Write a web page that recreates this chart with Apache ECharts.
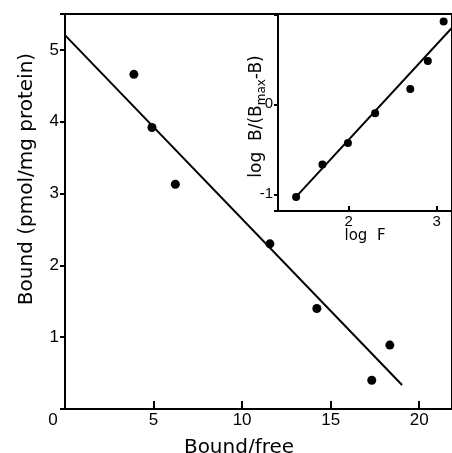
<!DOCTYPE html>
<html><head><meta charset="utf-8">
<script src="https://cdn.jsdelivr.net/npm/echarts@6/dist/echarts.min.js"></script>
<style>html,body{margin:0;padding:0;background:#fff}#c{width:452px;height:453px}</style>
</head><body><div id="c"></div>
<script>
// Main Scatchard plot
const scatchardX = [3.89, 4.91, 6.23, 11.57, 14.22, 17.32, 18.34];
const scatchardY = [4.66, 3.92, 3.13, 2.30, 1.40, 0.40, 0.89];
const scatchardFitX = [-0.25, 19.03];
const scatchardFitY = [5.27, 0.335];
// Inset Hill plot
const hillX = [1.40, 1.70, 1.99, 2.30, 2.70, 2.90, 3.08];
const hillY = [-1.03, -0.67, -0.43, -0.10, 0.17, 0.48, 0.92];
const hillFitX = [1.37, 3.25];
const hillFitY = [-1.06, 0.93];
// Ticks
const mainXTicks = [0, 5, 10, 15, 20];
const mainYTicks = [1, 2, 3, 4, 5];
const insetXTicks = [2, 3];
const insetYTicks = [-1, 0];

const pairs = (xs, ys) => xs.map((x, i) => [x, ys[i]]);
const K = '#000';
const tickFont = 'Liberation Sans';
const titleFont = 'DejaVu Sans';

const chart = echarts.init(document.getElementById('c'));
chart.setOption({
  animation: false,
  backgroundColor: '#fff',
  grid: [
    {left: 65, top: 14, right: 0, bottom: 44, outerBoundsMode: 'none', containLabel: false,
     show: true, borderColor: K, borderWidth: 2, backgroundColor: 'transparent'},
    {left: 278, top: 14, right: 0, bottom: 242, outerBoundsMode: 'none', containLabel: false,
     show: true, borderColor: K, borderWidth: 2, backgroundColor: '#fff'}
  ],
  xAxis: [
    {
      gridIndex: 0, type: 'value', min: 0, max: 21.85, interval: 5,
      axisLine: {show: true, onZero: false, lineStyle: {color: K, width: 2}},
      axisTick: {show: true, inside: true, length: 8, lineStyle: {color: K, width: 2}},
      axisLabel: {
        customValues: mainXTicks, margin: 3, color: K, fontFamily: tickFont, fontSize: 17,
        formatter: v => v === 0 ? '{z|0}' : String(v),
        rich: {z: {padding: [0, 24, 0, 0], color: K, fontFamily: tickFont, fontSize: 17}}
      },
      splitLine: {show: false},
      name: 'Bound/free', nameLocation: 'middle', nameGap: 29, nameMoveOverlap: false,
      nameTextStyle: {color: K, fontFamily: titleFont, fontSize: 20, padding: [0, 39, 0, 0]}
    },
    {
      gridIndex: 1, type: 'value', min: 1.194, max: 3.175, splitNumber: 2,
      axisLine: {show: true, onZero: false, lineStyle: {color: K, width: 2}},
      axisTick: {show: true, inside: true, length: 5, lineStyle: {color: K, width: 2}},
      axisLabel: {customValues: insetXTicks, margin: 3, color: K, fontFamily: tickFont, fontSize: 15},
      splitLine: {show: false},
      name: 'log  F', nameLocation: 'middle', nameGap: 18, nameMoveOverlap: false,
      nameTextStyle: {color: K, fontFamily: titleFont, fontSize: 15}
    }
  ],
  yAxis: [
    {
      gridIndex: 0, type: 'value', min: 0, max: 5.5, interval: 1,
      axisLine: {show: true, onZero: false, lineStyle: {color: K, width: 2}},
      axisTick: {show: true, inside: false, length: 5, lineStyle: {color: K, width: 2}},
      axisLabel: {customValues: mainYTicks, margin: 6, color: K, fontFamily: tickFont, fontSize: 17},
      splitLine: {show: false},
      name: 'Bound (pmol/mg protein)', nameLocation: 'middle', nameGap: 28, nameMoveOverlap: false,
      nameTextStyle: {color: K, fontFamily: titleFont, fontSize: 20, padding: [0, 0, 0, 65]}
    },
    {
      gridIndex: 1, type: 'value', min: -1.186, max: 1.003, splitNumber: 2,
      axisLine: {show: true, onZero: false, lineStyle: {color: K, width: 2}},
      axisTick: {show: true, inside: false, length: 4, lineStyle: {color: K, width: 2}},
      axisLabel: {customValues: insetYTicks, margin: 5, color: K, fontFamily: tickFont, fontSize: 15},
      splitLine: {show: false},
      name: 'log  B/(B{sub|max}-B)', nameLocation: 'middle', nameGap: 10, nameMoveOverlap: false,
      nameTextStyle: {
        color: K, fontFamily: titleFont, fontSize: 17, lineHeight: 22, padding: [0, 8, 0, 0],
        rich: {sub: {color: K, fontFamily: titleFont, fontSize: 12, lineHeight: 22, verticalAlign: 'bottom'}}
      }
    }
  ],
  series: [
    {type: 'scatter', xAxisIndex: 0, yAxisIndex: 0, data: pairs(scatchardX, scatchardY),
     symbol: 'circle', symbolSize: 9, itemStyle: {color: K, opacity: 1}},
    {type: 'line', xAxisIndex: 0, yAxisIndex: 0, data: pairs(scatchardFitX, scatchardFitY),
     symbol: 'none', clip: false, lineStyle: {color: K, width: 2}},
    {type: 'scatter', xAxisIndex: 1, yAxisIndex: 1, data: pairs(hillX, hillY),
     symbol: 'circle', symbolSize: 8, itemStyle: {color: K, opacity: 1}},
    {type: 'line', xAxisIndex: 1, yAxisIndex: 1, data: pairs(hillFitX, hillFitY),
     symbol: 'none', clip: true, lineStyle: {color: K, width: 2}}
  ]
});
</script></body></html>
